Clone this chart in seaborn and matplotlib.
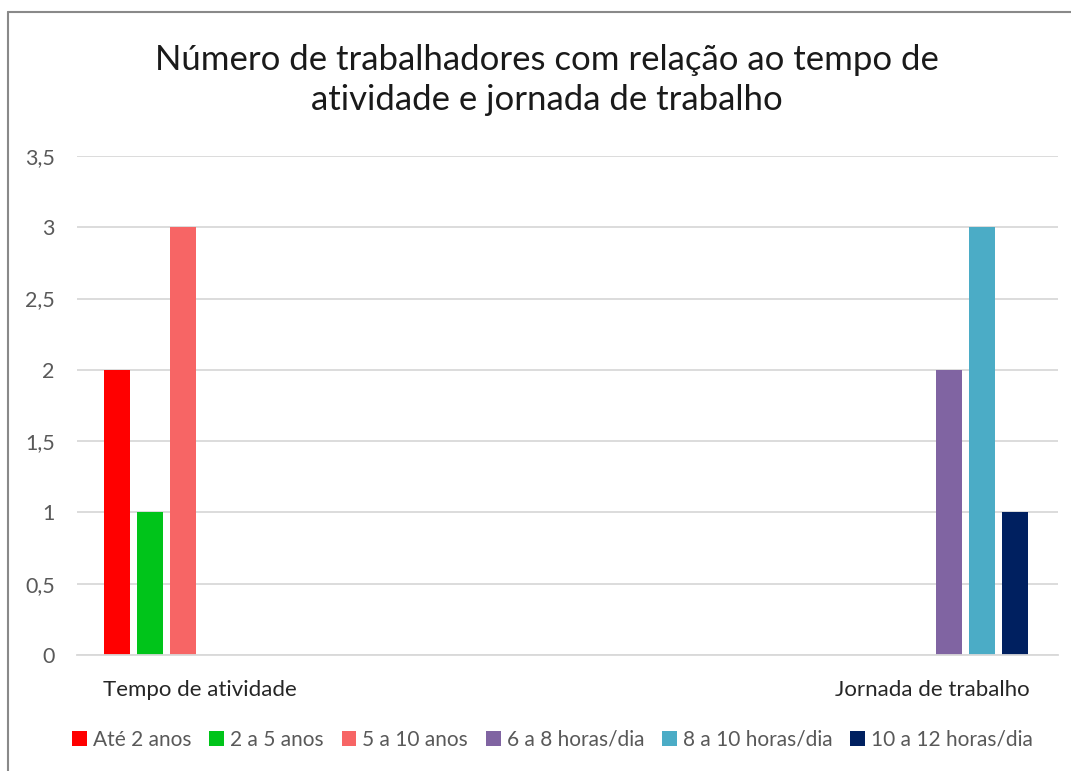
import matplotlib

matplotlib.use("Agg")

import matplotlib.pyplot as plt
import pandas as pd
import seaborn as sns
from matplotlib.lines import Line2D
from matplotlib.patches import Patch
from matplotlib.ticker import FuncFormatter, MultipleLocator

TITLE = "Número de trabalhadores com relação ao tempo de\natividade e jornada de trabalho"
CATEGORIES = ["Tempo de atividade", "Jornada de trabalho"]
SERIES = [
    "Até 2 anos",
    "2 a 5 anos",
    "5 a 10 anos",
    "6 a 8 horas/dia",
    "8 a 10 horas/dia",
    "10 a 12 horas/dia",
]
SERIES_CATEGORY = [
    "Tempo de atividade",
    "Tempo de atividade",
    "Tempo de atividade",
    "Jornada de trabalho",
    "Jornada de trabalho",
    "Jornada de trabalho",
]
VALUES = [2, 1, 3, 2, 3, 1]
COLORS = ["#FF0000", "#00C41A", "#F76565", "#8064A2", "#4BACC6", "#002060"]
Y_TICKS_STEP = 0.5
Y_MAX = 3.5

data = pd.DataFrame({"Categoria": SERIES_CATEGORY, "Serie": SERIES, "Valor": VALUES})

sns.set_theme(style="white")
plt.rcParams["font.family"] = ["Lato", "DejaVu Sans"]

fig = plt.figure(figsize=(10.71, 7.71), dpi=100)
ax = fig.add_axes([77 / 1071, 1 - 655 / 771, (1058 - 77) / 1071, (655 - 156) / 771])

sns.barplot(
    data=data,
    x="Categoria",
    y="Valor",
    hue="Serie",
    order=CATEGORIES,
    hue_order=SERIES,
    palette=COLORS,
    width=0.27,
    gap=0.2,
    saturation=1,
    linewidth=0,
    legend=False,
    ax=ax,
)

ax.set_xlim(-0.167, 1.171)
ax.set_ylim(0, Y_MAX)
ax.yaxis.set_major_locator(MultipleLocator(Y_TICKS_STEP))
ax.yaxis.set_major_formatter(
    FuncFormatter(lambda v, _: f"{v:g}".replace(".", ","))
)
ax.grid(axis="y", color="#D9D9D9", linewidth=1.3)
ax.set_axisbelow(True)
for side in ["left", "right", "top"]:
    ax.spines[side].set_visible(False)
ax.spines["bottom"].set_color("#D9D9D9")
ax.spines["bottom"].set_linewidth(1.3)
ax.set_xlabel("")
ax.set_ylabel("")
ax.tick_params(axis="y", labelsize=15.5, labelcolor="#595959", length=0, pad=16)
ax.tick_params(axis="x", labelsize=16, labelcolor="#262626", length=0, pad=18)

fig.text(0.511, 1 - 80 / 771, TITLE, ha="center", va="center",
         fontsize=25, color="#1A1A1A", linespacing=1.3)

handles = [Patch(facecolor=c, edgecolor="none") for c in COLORS]
fig.legend(
    handles,
    SERIES,
    loc="center",
    bbox_to_anchor=(0.516, 1 - 740 / 771),
    ncol=6,
    frameon=False,
    fontsize=15,
    labelcolor="#595959",
    handlelength=0.7,
    handleheight=0.7,
    handletextpad=0.3,
    columnspacing=0.85,
)

# chart area border
fig.add_artist(Line2D([7.5 / 1071, 1], [1 - 12 / 771, 1 - 12 / 771],
                      transform=fig.transFigure, color="#898989", linewidth=1.5))
fig.add_artist(Line2D([7.5 / 1071, 7.5 / 1071], [0, 1 - 12 / 771],
                      transform=fig.transFigure, color="#898989", linewidth=1.5))

fig.savefig("out.png", dpi=100)
